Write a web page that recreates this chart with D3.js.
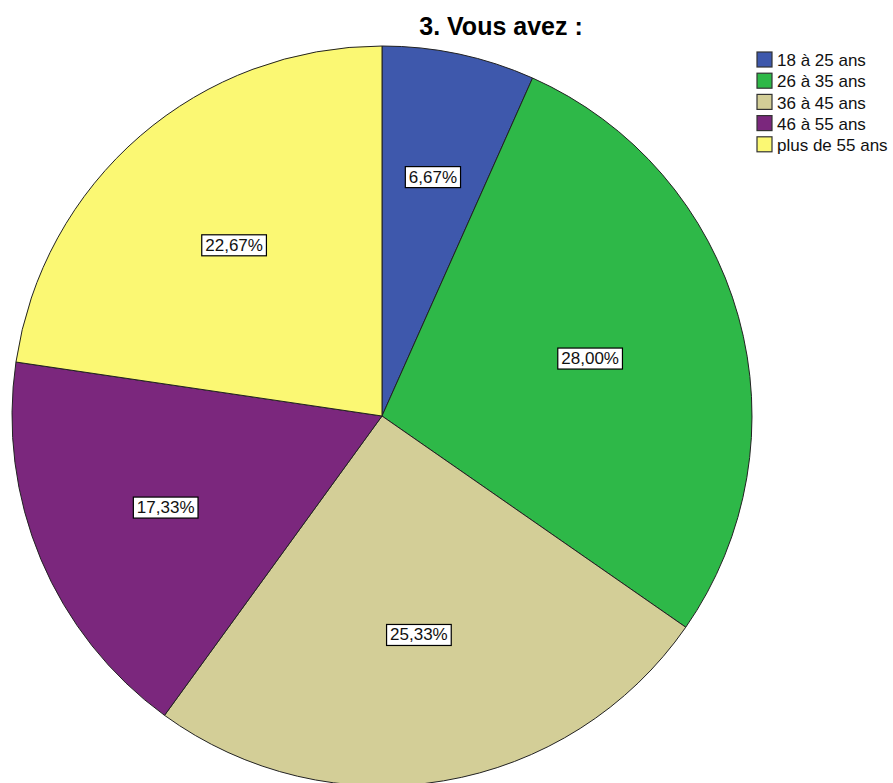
<!DOCTYPE html>
<html>
<head>
<meta charset="utf-8">
<script src="https://cdn.jsdelivr.net/npm/d3@7"></script>
<style>
  body { margin: 0; background: #fff; }
  svg { display: block; font-family: "Liberation Sans", Arial, sans-serif; }
</style>
</head>
<body>
<svg id="chart"></svg>
<script>
var categories = ["18 à 25 ans", "26 à 35 ans", "36 à 45 ans", "46 à 55 ans", "plus de 55 ans"];
var percents = [6.67, 28.00, 25.33, 17.33, 22.67];
var colors = ["#3e58ac", "#2eb848", "#d3ce97", "#7b277d", "#fbf873"];
var title = "3. Vous avez :";

var cfg = {
  w: 893,
  h: 783,
  cx: 382,
  cy: 416,
  radius: 370
};

var svg = d3.select("#chart")
    .attr("width", cfg.w)
    .attr("height", cfg.h);

svg.append("text")
    .attr("x", 501)
    .attr("y", 35)
    .attr("text-anchor", "middle")
    .attr("font-size", 25)
    .attr("font-weight", "bold")
    .text(title);

var data = categories.map(function(c, i) { return { name: c, value: percents[i], color: colors[i] }; });

var pie = d3.pie().sort(null).value(function(d) { return d.value; });
var arcs = pie(data);
var arc = d3.arc().innerRadius(0).outerRadius(cfg.radius);

var g = svg.append("g")
    .attr("transform", "translate(" + cfg.cx + "," + cfg.cy + ")");

// slices
g.selectAll("path.slice")
  .data(arcs)
  .enter()
  .append("path")
  .attr("class", "slice")
  .attr("d", arc)
  .attr("fill", function(d) { return d.data.color; })
  .attr("stroke", "#222")
  .attr("stroke-width", 1);

// labels at sector centroid
function centroid(d) {
  var half = (d.endAngle - d.startAngle) / 2;
  var mid = d.startAngle + half;
  var r = 2 * cfg.radius * Math.sin(half) / (3 * half);
  return [r * Math.sin(mid), -r * Math.cos(mid)];
}

var labels = g.selectAll("g.lbl")
  .data(arcs)
  .enter()
  .append("g")
  .attr("class", "lbl")
  .attr("transform", function(d) { var c = centroid(d); return "translate(" + c[0] + "," + c[1] + ")"; });

labels.append("text")
  .attr("text-anchor", "middle")
  .attr("dy", "0.36em")
  .attr("font-size", 17)
  .attr("fill", "#111")
  .text(function(d) { return d.data.value.toFixed(2).replace(".", ",") + "%"; });

labels.each(function() {
  var sel = d3.select(this);
  var bb = sel.select("text").node().getBBox();
  sel.insert("rect", "text")
    .attr("x", bb.x - 3.5)
    .attr("y", bb.y - 1)
    .attr("width", bb.width + 7)
    .attr("height", bb.height + 2)
    .attr("fill", "#fff")
    .attr("stroke", "#000")
    .attr("stroke-width", 1.2);
});

// legend
var legend = svg.append("g")
    .attr("transform", "translate(757,52)");

var rows = legend.selectAll("g.row")
  .data(data)
  .enter()
  .append("g")
  .attr("class", "row")
  .attr("transform", function(d, i) { return "translate(0," + (i * 21.2) + ")"; });

rows.append("rect")
  .attr("width", 15)
  .attr("height", 15)
  .attr("fill", function(d) { return d.color; })
  .attr("stroke", "#333")
  .attr("stroke-width", 1.2);

rows.append("text")
  .attr("x", 20)
  .attr("y", 8)
  .attr("dy", "0.36em")
  .attr("font-size", 17)
  .attr("fill", "#111")
  .text(function(d) { return d.name; });
</script>
</body>
</html>
